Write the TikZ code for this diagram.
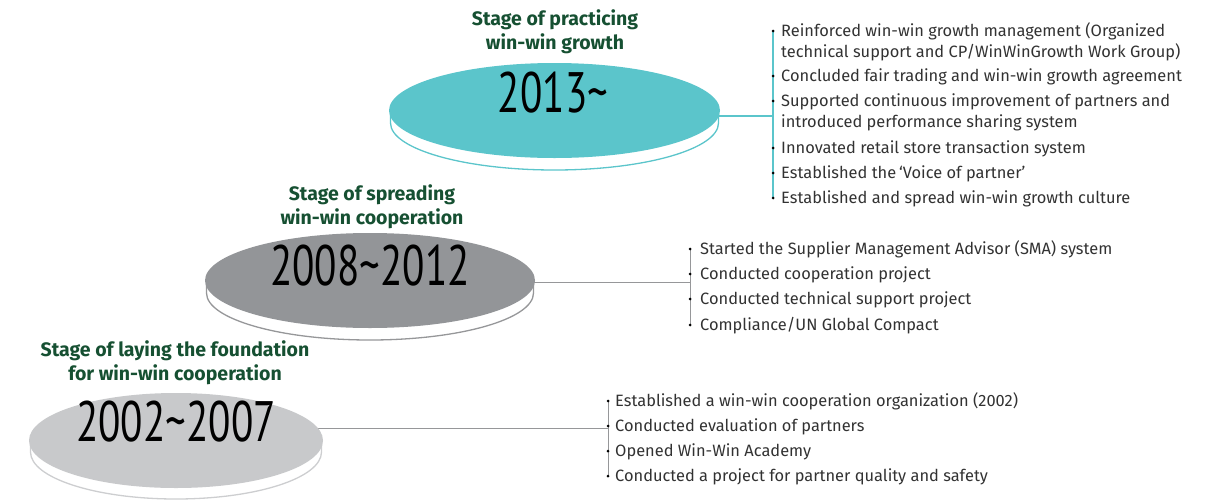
\documentclass[tikz,border=0pt]{standalone}
\usepackage{fontspec}
\setmainfont{Fira Sans}
\newfontfamily\yearfont{PT Sans}
\usetikzlibrary{shapes.geometric}

\definecolor{tealface}{RGB}{91,197,203}
\definecolor{darkface}{RGB}{147,149,152}
\definecolor{lightface}{RGB}{200,201,203}
\definecolor{darkrim}{RGB}{150,151,153}
\definecolor{lightrim}{RGB}{205,206,208}
\definecolor{headgreen}{RGB}{22,80,50}
\definecolor{itemgray}{RGB}{50,50,50}

\pgfdeclarelayer{lines}
\pgfsetlayers{lines,main}

\tikzset{
  face/.style={ellipse, inner sep=0pt, draw=none, minimum width=#1},
  yearlabel/.style={inner sep=0pt, font=\yearfont\fontsize{57}{57}\selectfont, text=black},
  heading/.style={inner sep=0pt, align=center, text=headgreen,
    font=\fontsize{19.5}{24}\selectfont\bfseries},
  item/.style={inner sep=0pt, anchor=base west, text=itemgray,
    font=\fontsize{16.4}{21}\selectfont},
  bulletdot/.style={circle, fill=black, inner sep=0pt, minimum size=3pt},
  tealline/.style={draw=tealface, line width=1.2pt},
  grayline/.style={draw=darkrim, line width=1pt},
}
\newcommand{\yearbox}[1]{\scalebox{0.72}[1]{#1}}
\newcommand{\twoline}[2]{\parbox[t]{440pt}{\setlength{\baselineskip}{21pt}#1\\#2}}

\begin{document}
\begin{tikzpicture}[x=1pt,y=-1pt]
\useasboundingbox (0,0) rectangle (1221,501);

% ---------- stage 3 : 2013~ ----------
\coordinate (j1) at (773,116);
\draw[tealline] (554,116) -- (j1);
\filldraw[fill=white, draw=tealface, line width=1.3pt]
  (390.5,111) -- ++(0,12) arc[start angle=180, end angle=360, x radius=164pt, y radius=47pt] -- (718.5,111) -- cycle;
\node[face=331pt, minimum height=95pt, fill=tealface] (e1) at (554.5,110.5) {};
\node[yearlabel] (y1) at (553,93) {\yearbox{2013\char`\~}};
\node[heading] (h1) at (555,32) {Stage of practicing\\win-win growth};

\node[bulletdot] (b11) at (773,31) {};
\node[bulletdot] (b12) at (773,76) {};
\node[bulletdot] (b13) at (773,101) {};
\node[bulletdot] (b14) at (773,148) {};
\node[bulletdot] (b15) at (773,173) {};
\node[bulletdot] (b16) at (773,198) {};
\begin{pgfonlayer}{lines}
  \draw[tealline] (b11.center) -- (b16.center);
\end{pgfonlayer}
\node[item] (t11) at (781,36) {\twoline{Reinforced win-win growth management (Organized}{technical support and CP/WinWinGrowth Work Group)}};
\node[item] (t12) at (781,81) {Concluded fair trading and win-win growth agreement};
\node[item] (t13) at (781,106) {\twoline{Supported continuous improvement of partners and}{introduced performance sharing system}};
\node[item] (t14) at (781,153) {Innovated retail store transaction system};
\node[item] (t15) at (781,178) {Established the\,‘Voice of partner’};
\node[item] (t16) at (781,203) {Established and spread win-win growth culture};

% ---------- stage 2 : 2008~2012 ----------
\coordinate (j2) at (690,282);
\draw[grayline] (370,282) -- (j2);
\filldraw[fill=white, draw=darkrim, line width=1.3pt]
  (206.5,281) -- ++(0,12) arc[start angle=180, end angle=360, x radius=163.5pt, y radius=47pt] -- (533.5,281) -- cycle;
\node[face=330pt, minimum height=95pt, fill=darkface] (e2) at (370,280.5) {};
\node[yearlabel] (y2) at (370,266) {\yearbox{2008\char`\~2012}};
\node[heading] (h2) at (372,206.5) {Stage of spreading\\win-win cooperation};

\node[bulletdot] (b21) at (690,249) {};
\node[bulletdot] (b22) at (690,274) {};
\node[bulletdot] (b23) at (690,299) {};
\node[bulletdot] (b24) at (690,325) {};
\begin{pgfonlayer}{lines}
  \draw[grayline] (b21.center) -- (b24.center);
\end{pgfonlayer}
\node[item] (t21) at (700,254) {Started the Supplier Management Advisor (SMA) system};
\node[item] (t22) at (700,279) {Conducted cooperation project};
\node[item] (t23) at (700,304) {Conducted technical support project};
\node[item] (t24) at (700,330) {Compliance/UN Global Compact};

% ---------- stage 1 : 2002~2007 ----------
\coordinate (j3) at (608,428);
\draw[grayline] (176,428) -- (j3);
\filldraw[fill=white, draw=lightrim, line width=1.3pt]
  (30.5,441) -- ++(0,11) arc[start angle=180, end angle=360, x radius=145.5pt, y radius=47pt] -- (321.5,441) -- cycle;
\node[face=294pt, minimum height=95pt, fill=lightface] (e3) at (176,440.5) {};
\node[yearlabel] (y3) at (176,422) {\yearbox{2002\char`\~2007}};
\node[heading] (h3) at (175,362.5) {Stage of laying the foundation\\for win-win cooperation};

\node[bulletdot] (b31) at (608,401) {};
\node[bulletdot] (b32) at (608,426) {};
\node[bulletdot] (b33) at (608,451) {};
\node[bulletdot] (b34) at (608,476) {};
\begin{pgfonlayer}{lines}
  \draw[grayline] (b31.center) -- (b34.center);
\end{pgfonlayer}
\node[item] (t31) at (615,406) {Established a win-win cooperation organization (2002)};
\node[item] (t32) at (615,431) {Conducted evaluation of partners};
\node[item] (t33) at (615,456) {Opened Win-Win Academy};
\node[item] (t34) at (615,481) {Conducted a project for partner quality and safety};
\end{tikzpicture}
\end{document}
